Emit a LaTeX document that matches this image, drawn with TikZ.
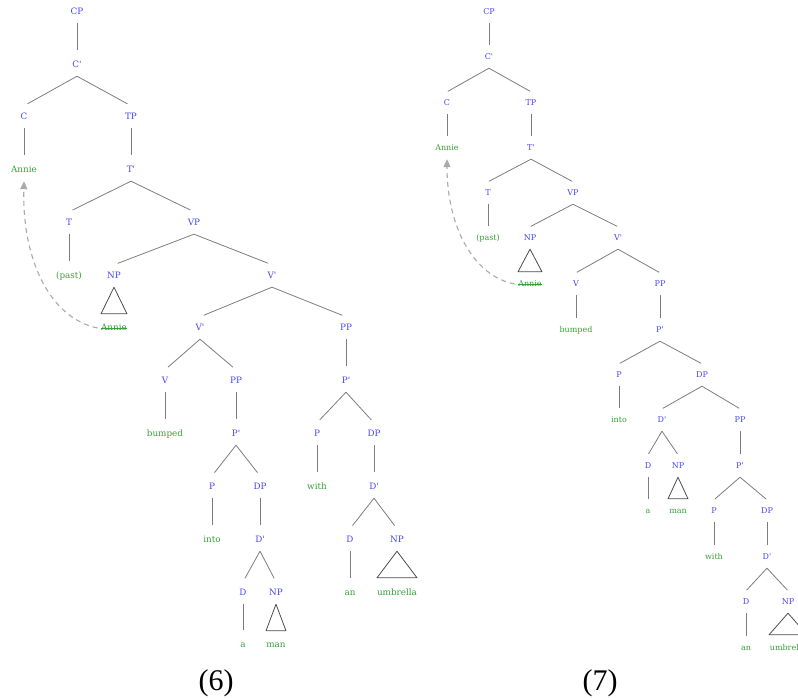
\documentclass[tikz,border=0pt]{standalone}
\usepackage{fontspec}
\setmainfont{Liberation Serif}
\newfontfamily\treefont{DejaVu Serif}
\usetikzlibrary{arrows.meta}

\definecolor{catblue}{RGB}{70,70,250}
\definecolor{wordgreen}{RGB}{55,160,55}
\definecolor{branchgray}{RGB}{125,125,125}
\definecolor{movegray}{RGB}{170,170,170}

\newcommand{\bk}{\textquotesingle}

\tikzset{
	lbl/.style = {inner xsep=1.5pt, inner ysep=0pt, minimum height=22pt,
		text height=0.72em, text depth=0.2em},
	cat/.style = {lbl, text=catblue},
	word/.style = {lbl, text=wordgreen},
	struck/.style = {word, path picture={
		\draw[wordgreen, line width=0.5pt]
			([xshift=1pt]path picture bounding box.west)
			-- ([xshift=-1pt]path picture bounding box.east);}},
	branch/.style = {draw=branchgray, line width=0.8pt},
	roof/.style = {draw=black!70, line width=0.8pt, line join=round},
	move/.style = {draw=movegray, line width=1.1pt, dash pattern=on 5pt off 4pt,
		-{Triangle[width=7pt,length=8pt]}},
}

\begin{document}
\begin{tikzpicture}[x=1pt, y=-1pt]
	\useasboundingbox (0,0) rectangle (798,698);
	\clip (0,0) rectangle (798,698);

	% tree (6)
	\begin{scope}[font=\treefont\fontsize{8.8}{10}\selectfont]
		\node[cat]  (lcp)   at (77,12)   {CP};
		\node[cat]  (lcb)   at (77,65)   {C\bk};
		\node[cat]  (lc)    at (24,117)  {C};
		\node[cat]  (ltp)   at (131,117) {TP};
		\node[word] (lann)  at (24,170)  {Annie};
		\node[cat]  (ltb)   at (131,170) {T\bk};
		\node[cat]  (lt)    at (69,223)  {T};
		\node[cat]  (lvp)   at (194,223) {VP};
		\node[word] (lpast) at (69,276)  {(past)};
		\node[cat]  (lnp)   at (114,276) {NP};
		\node[cat]  (lvb)   at (272,276) {V\bk};
		\node[struck] (ltr) at (114,328) {Annie};
		\node[cat]  (lvb2)  at (200,328) {V\bk};
		\node[cat]  (lpp)   at (346,328) {PP};
		\node[cat]  (lv)    at (165,381) {V};
		\node[cat]  (lpp2)  at (236,381) {PP};
		\node[cat]  (lpb)   at (346,381) {P\bk};
		\node[word] (lbump) at (165,434) {bumped};
		\node[cat]  (lpb2)  at (236,434) {P\bk};
		\node[cat]  (lp)    at (317,434) {P};
		\node[cat]  (ldp)   at (374,434) {DP};
		\node[cat]  (lp2)   at (212,487) {P};
		\node[cat]  (ldp2)  at (260,487) {DP};
		\node[word] (lwith) at (317,487) {with};
		\node[cat]  (ldb)   at (374,487) {D\bk};
		\node[word] (linto) at (212,540) {into};
		\node[cat]  (ldb2)  at (260,540) {D\bk};
		\node[cat]  (ld)    at (350,540) {D};
		\node[cat]  (lnp2)  at (397,540) {NP};
		\node[cat]  (ld2)   at (243,593) {D};
		\node[cat]  (lnp3)  at (276,593) {NP};
		\node[word] (lan)   at (350,593) {an};
		\node[word] (lumb)  at (397,593) {umbrella};
		\node[word] (la)    at (243,645) {a};
		\node[word] (lman)  at (276,645) {man};
	\end{scope}

	\foreach \a/\b in {lcp/lcb, lcb/lc, lcb/ltp, lc/lann, ltp/ltb, ltb/lt, ltb/lvp,
			lt/lpast, lvp/lnp, lvp/lvb, lvb/lvb2, lvb/lpp, lvb2/lv, lvb2/lpp2,
			lv/lbump, lpp2/lpb2, lpb2/lp2, lpb2/ldp2, lp2/linto, ldp2/ldb2,
			ldb2/ld2, ldb2/lnp3, ld2/la, lpp/lpb, lpb/lp, lpb/ldp, lp/lwith,
			ldp/ldb, ldb/ld, ldb/lnp2, ld/lan}
		\draw[branch, shorten >=4pt] (\a.south) -- (\b.north);

	% tree (7)
	\begin{scope}[font=\treefont\fontsize{8}{9}\selectfont]
		\node[cat]  (rcp)   at (489,12)  {CP};
		\node[cat]  (rcb)   at (489,57)  {C\bk};
		\node[cat]  (rc)    at (447,103) {C};
		\node[cat]  (rtp)   at (531,103) {TP};
		\node[word] (rann)  at (447,148) {Annie};
		\node[cat]  (rtb)   at (531,148) {T\bk};
		\node[cat]  (rt)    at (488,193) {T};
		\node[cat]  (rvp)   at (573,193) {VP};
		\node[word] (rpast) at (488,238) {(past)};
		\node[cat]  (rnp)   at (530,238) {NP};
		\node[cat]  (rvb)   at (618,238) {V\bk};
		\node[struck] (rtr) at (530,284) {Annie};
		\node[cat]  (rv)    at (576,284) {V};
		\node[cat]  (rpp)   at (660,284) {PP};
		\node[word] (rbump) at (576,330) {bumped};
		\node[cat]  (rpb)   at (660,330) {P\bk};
		\node[cat]  (rp)    at (619,375) {P};
		\node[cat]  (rdp)   at (702,375) {DP};
		\node[word] (rinto) at (619,420) {into};
		\node[cat]  (rdb)   at (662,420) {D\bk};
		\node[cat]  (rpp2)  at (740,420) {PP};
		\node[cat]  (rd)    at (648,466) {D};
		\node[cat]  (rnp2)  at (678,466) {NP};
		\node[cat]  (rpb2)  at (740,466) {P\bk};
		\node[word] (ra)    at (648,511) {a};
		\node[word] (rman)  at (678,511) {man};
		\node[cat]  (rp2)   at (714,511) {P};
		\node[cat]  (rdp2)  at (767,511) {DP};
		\node[word] (rwith) at (714,557) {with};
		\node[cat]  (rdb2)  at (767,557) {D\bk};
		\node[cat]  (rd2)   at (746,602) {D};
		\node[cat]  (rnp3)  at (788,602) {NP};
		\node[word] (ran)   at (746,648) {an};
		\node[word] (rumb)  at (788,648) {umbrella};
	\end{scope}

	\foreach \a/\b in {rcp/rcb, rcb/rc, rcb/rtp, rc/rann, rtp/rtb, rtb/rt, rtb/rvp,
			rt/rpast, rvp/rnp, rvp/rvb, rvb/rv, rvb/rpp, rv/rbump, rpp/rpb,
			rpb/rp, rpb/rdp, rp/rinto, rdp/rdb, rdp/rpp2, rdb/rd, rdb/rnp2,
			rd/ra, rpp2/rpb2, rpb2/rp2, rpb2/rdp2, rp2/rwith, rdp2/rdb2,
			rdb2/rd2, rdb2/rnp3, rd2/ran}
		\draw[branch, shorten >=1pt] (\a.south) -- (\b.north);

	% triangles over unanalysed phrases
	\foreach \n/\w/\h/\s in {lnp/ltr/13/3, lnp3/lman/10/3, lnp2/lumb/20/4,
			rnp/rtr/12/1, rnp2/rman/10/1, rnp3/rumb/19/2}
		\draw[roof] (\n.south) -- ([xshift=-\h pt, yshift=\s pt]\w.north)
			-- ([xshift=\h pt, yshift=\s pt]\w.north) -- cycle;

	% movement of the subject
	\draw[move] ([xshift=-2pt]ltr.west) .. controls (50,318) and (22,260) .. (lann.south);
	\draw[move] ([xshift=-2pt]rtr.west) .. controls (473,276) and (447,226) .. (rann.south);

	\node[font=\fontsize{30}{32}\selectfont] (lab6) at (216,683) {(6)};
	\node[font=\fontsize{30}{32}\selectfont] (lab7) at (600,683) {(7)};
\end{tikzpicture}
\end{document}
